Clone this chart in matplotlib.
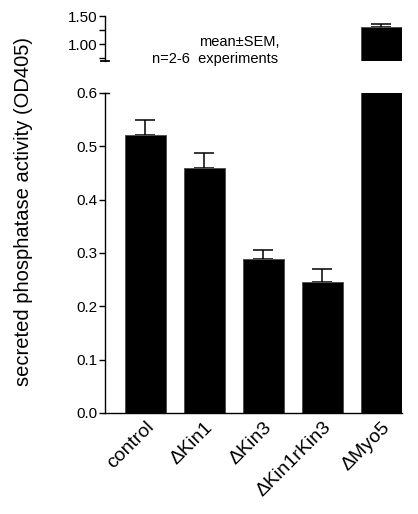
import numpy as np
import matplotlib
matplotlib.use('Agg')
import matplotlib.pyplot as plt

plt.rcParams['font.family'] = ['Liberation Sans', 'DejaVu Sans']

# bar data
strains = ['control', '\u0394Kin1', '\u0394Kin3', '\u0394Kin1rKin3', '\u0394Myo5']
activity = np.array([0.521, 0.459, 0.288, 0.245, 1.298])
sem = np.array([0.029, 0.029, 0.017, 0.025, 0.059])

W, H = 418, 514
fig = plt.figure(figsize=(W / 100, H / 100), dpi=100)

# pixel helpers for axes placement
def box(x0, x1, ytop, ybot):
    return [x0 / W, 1 - ybot / H, (x1 - x0) / W, (ybot - ytop) / H]

ax_lo = fig.add_axes(box(105, 402, 93, 413))
ax_hi = fig.add_axes(box(105, 402, 16, 61))

x = np.arange(len(strains))
for ax in (ax_lo, ax_hi):
    ax.bar(x, activity, width=0.7, color='black', edgecolor='#505050',
           linewidth=0.7, zorder=2)
    ax.errorbar(x, activity, yerr=[np.zeros_like(sem), sem], fmt='none',
                ecolor='black', elinewidth=1.1, capsize=7.5, capthick=1.1,
                zorder=1)
    ax.set_xlim(-0.686, 4.35)
    ax.spines['top'].set_visible(False)
    ax.spines['right'].set_visible(False)
    ax.tick_params(axis='y', direction='out', length=4, width=1,
                   labelsize=11, pad=1.5)

# lower part
ax_lo.set_ylim(0, 0.6)
ax_lo.set_yticks(np.arange(0, 0.61, 0.1))
ax_lo.set_yticklabels(['%.1f' % v for v in np.arange(0, 0.61, 0.1)])
ax_lo.set_xticks(x)
ax_lo.set_xticklabels(strains, rotation=45, ha='right', va='top',
                      rotation_mode='anchor', fontsize=14)
ax_lo.tick_params(axis='x', length=0, pad=4)
ax_lo.spines['bottom'].set_linewidth(1)
ax_lo.spines['left'].set_linewidth(1)

# upper part
ax_hi.set_ylim(0.7, 1.5)
ax_hi.set_yticks([1.0, 1.5])
ax_hi.set_yticklabels(['1.00', '1.50'])
ax_hi.set_yticks([0.75, 1.25], minor=True)
ax_hi.tick_params(axis='y', which='minor', direction='out', length=4, width=1)
ax_hi.spines['bottom'].set_visible(False)
ax_hi.spines['left'].set_linewidth(1)
ax_hi.set_xticks([])

# break marks
ax_hi.plot([-0.014, 0.014], [0.7, 0.7], transform=ax_hi.get_yaxis_transform(),
           color='black', lw=1.3, clip_on=False)
ax_lo.plot([0, 0.014], [0.6, 0.6], transform=ax_lo.get_yaxis_transform(),
           color='black', lw=1, clip_on=False)

fig.text(24 / W, 1 - 211 / H, 'secreted phosphatase activity (OD405)',
         rotation=90, ha='center', va='center', fontsize=14.5)

fig.text(199 / W, 1 - 42 / H, 'mean\u00b1SEM,', ha='left', va='center',
         fontsize=10.5)
fig.text(152 / W, 1 - 59 / H, 'n=2-6  experiments', ha='left', va='center',
         fontsize=10.5)

fig.savefig('out.png', dpi=100)
